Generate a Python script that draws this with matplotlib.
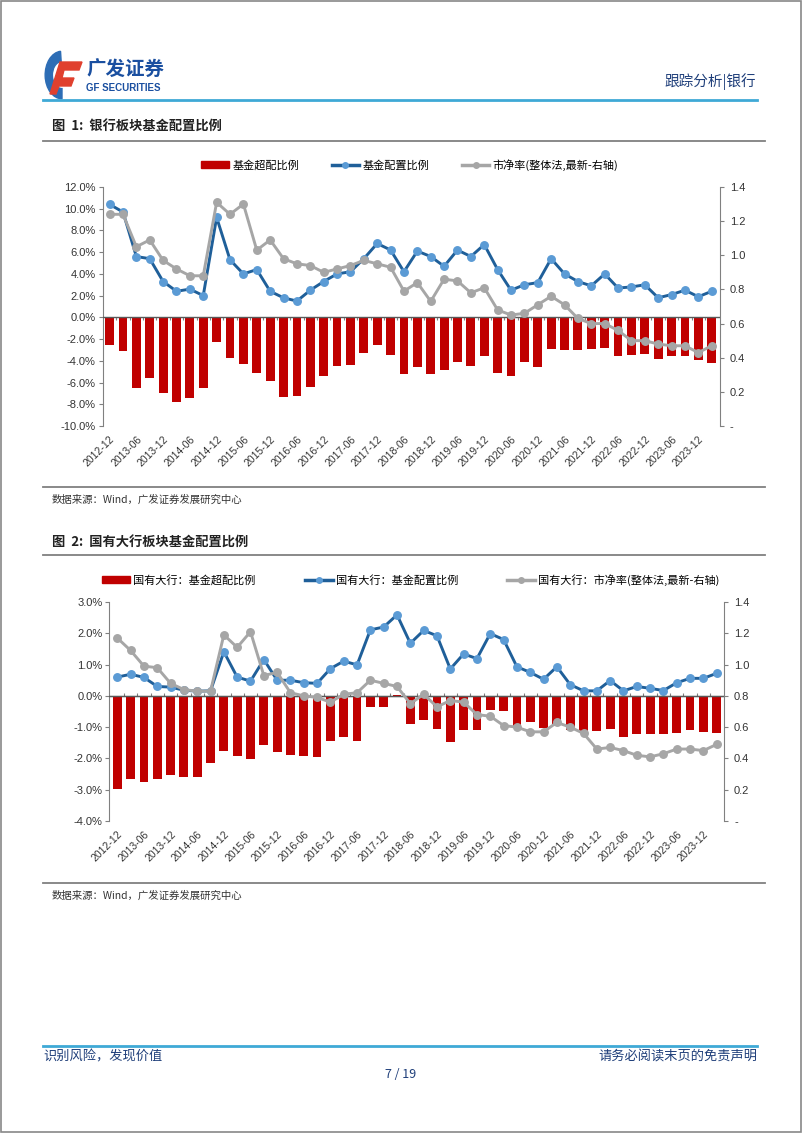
import matplotlib
matplotlib.use('Agg')
from matplotlib import pyplot as plt
from matplotlib.patches import Rectangle, Polygon, Wedge
from matplotlib.lines import Line2D
import numpy as np

# quarterly report dates
quarters = ['2012-12', '2013-03', '2013-06', '2013-09', '2013-12', '2014-03', '2014-06', '2014-09',
            '2014-12', '2015-03', '2015-06', '2015-09', '2015-12', '2016-03', '2016-06', '2016-09',
            '2016-12', '2017-03', '2017-06', '2017-09', '2017-12', '2018-03', '2018-06', '2018-09',
            '2018-12', '2019-03', '2019-06', '2019-09', '2019-12', '2020-03', '2020-06', '2020-09',
            '2020-12', '2021-03', '2021-06', '2021-09', '2021-12', '2022-03', '2022-06', '2022-09',
            '2022-12', '2023-03', '2023-06', '2023-09', '2023-12', '2024-03']

# fig 1: bank sector
bank_over = [-2.5, -3.1, -6.5, -5.6, -7.0, -7.8, -7.4, -6.5, -2.3, -3.7, -4.3, -5.1, -5.9, -7.3, -7.2, -6.4,
             -5.4, -4.5, -4.4, -3.3, -2.5, -3.5, -5.2, -4.6, -5.2, -4.8, -4.1, -4.5, -3.6, -5.1, -5.4, -4.1,
             -4.6, -2.9, -3.0, -3.0, -2.9, -2.8, -3.6, -3.5, -3.4, -3.8, -3.6, -3.55, -3.9, -4.2]
bank_alloc = [10.4, 9.7, 5.6, 5.4, 3.3, 2.4, 2.6, 2.0, 9.2, 5.3, 4.0, 4.4, 2.4, 1.8, 1.5, 2.5,
              3.3, 4.0, 4.2, 5.4, 6.8, 6.2, 4.2, 6.1, 5.6, 4.7, 6.2, 5.6, 6.7, 4.4, 2.5, 3.0,
              3.2, 5.4, 4.0, 3.3, 2.9, 4.0, 2.7, 2.8, 3.0, 1.8, 2.1, 2.5, 1.9, 2.4]
bank_pb = [1.24, 1.24, 1.05, 1.09, 0.97, 0.92, 0.88, 0.88, 1.31, 1.24, 1.30, 1.03, 1.09, 0.98, 0.95, 0.94,
           0.90, 0.92, 0.94, 0.97, 0.95, 0.93, 0.79, 0.84, 0.73, 0.86, 0.85, 0.78, 0.81, 0.68, 0.65, 0.66,
           0.71, 0.76, 0.71, 0.63, 0.60, 0.60, 0.56, 0.50, 0.50, 0.48, 0.47, 0.47, 0.43, 0.47]

# fig 2: big state-owned banks
soe_over = [-2.97, -2.65, -2.76, -2.65, -2.52, -2.6, -2.58, -2.14, -1.75, -1.93, -2.03, -1.56, -1.79, -1.9, -1.93, -1.95,
            -1.44, -1.31, -1.43, -0.36, -0.36, 0.03, -0.89, -0.76, -1.07, -1.49, -1.1, -1.08, -0.44, -0.47, -0.95, -0.85,
            -1.02, -0.9, -1.1, -1.19, -1.13, -1.07, -1.3, -1.21, -1.22, -1.21, -1.18, -1.1, -1.15, -1.18]
soe_alloc = [0.6, 0.69, 0.59, 0.3, 0.28, 0.18, 0.15, 0.16, 1.41, 0.6, 0.47, 1.16, 0.5, 0.5, 0.42, 0.4,
             0.87, 1.11, 0.99, 2.11, 2.2, 2.59, 1.68, 2.09, 1.92, 0.86, 1.34, 1.19, 1.99, 1.8, 0.93, 0.75,
             0.53, 0.93, 0.36, 0.16, 0.16, 0.49, 0.16, 0.3, 0.24, 0.17, 0.42, 0.56, 0.56, 0.72]
soe_pb = [1.17, 1.09, 0.99, 0.98, 0.88, 0.84, 0.83, 0.83, 1.19, 1.11, 1.21, 0.93, 0.95, 0.82, 0.80, 0.79,
          0.76, 0.81, 0.82, 0.90, 0.88, 0.86, 0.75, 0.81, 0.73, 0.77, 0.76, 0.68, 0.67, 0.61, 0.60, 0.57,
          0.57, 0.63, 0.60, 0.56, 0.46, 0.47, 0.45, 0.42, 0.41, 0.43, 0.46, 0.46, 0.45, 0.49]

RED = '#C00000'
BLUE_LINE = '#1F5F99'
BLUE_MK = '#5B9BD5'
GREY = '#A6A6A6'
NAVY = '#1F3F7A'
CJK = ['Noto Sans CJK SC', 'DejaVu Sans']
NUM = ['Liberation Sans', 'DejaVu Sans']

W, H = 802, 1133
fig = plt.figure(figsize=(W / 100, H / 100), dpi=100)


def fx(x):
    return x / W


def fy(y):
    return 1 - y / H


def hline(y, x0, x1, color, lw):
    fig.add_artist(Line2D([fx(x0), fx(x1)], [fy(y), fy(y)], color=color, lw=lw, transform=fig.transFigure))


def draw_chart(rect, over, alloc, pb, ylo, yhi, ystep, xlim, names, legend_x, legend_y, colsp):
    ax = fig.add_axes(rect)
    x = np.arange(len(quarters))
    ax.bar(x, over, width=0.66, color=RED, zorder=2)
    ax.plot(x, alloc, color=BLUE_LINE, lw=2.1, marker='o', ms=5.4,
            mfc=BLUE_MK, mec=BLUE_MK, zorder=3)
    ax.set_ylim(ylo, yhi)
    ax.set_xlim(*xlim)
    yt = np.arange(ylo, yhi + ystep / 2, ystep)
    ax.set_yticks(yt)
    ax.set_yticklabels(['%.1f%%' % v for v in yt], family=NUM, fontsize=8, color='#333333')
    ax.set_xticks(x[::2])
    ax.set_xticklabels(quarters[::2], rotation=45, ha='right', va='top', rotation_mode='anchor',
                       family=NUM, fontsize=7.5, color='#333333')
    ax.tick_params(axis='x', length=0, pad=6)
    ax.tick_params(axis='y', length=3, color='#808080', direction='out', pad=2)
    for s in ['top', 'right', 'bottom']:
        ax.spines[s].set_visible(False)
    ax.spines['left'].set_color('#808080')
    ax.axhline(0, color='#595959', lw=1.0, zorder=4)
    # small ticks on the zero line between categories
    sec = ax.secondary_xaxis(-ylo / (yhi - ylo))
    sec.set_xticks(x[:-1] + 0.5)
    sec.set_xticklabels([])
    sec.tick_params(length=2.5, color='#808080', direction='out')
    sec.spines['bottom'].set_visible(False)

    ax2 = ax.twinx()
    ax2.plot(x, pb, color=GREY, lw=2.1, marker='o', ms=5.4, mfc=GREY, mec=GREY, zorder=3)
    ax2.set_ylim(0, 1.4)
    rt = np.arange(0, 1.41, 0.2)
    ax2.set_yticks(rt)
    ax2.set_yticklabels(['-'] + ['%.1f' % v for v in rt[1:]], family=NUM, fontsize=8, color='#333333')
    ax2.tick_params(axis='y', length=3, color='#808080', pad=4)
    for s in ['top', 'left', 'bottom']:
        ax2.spines[s].set_visible(False)
    ax2.spines['right'].set_color('#808080')

    handles = [Rectangle((0, 0), 1, 1, color=RED),
               Line2D([], [], color=BLUE_LINE, lw=2.5, marker='o', ms=4, mfc=BLUE_MK, mec=BLUE_MK),
               Line2D([], [], color=GREY, lw=2.5, marker='o', ms=4, mfc=GREY, mec=GREY)]
    fig.legend(handles, names, loc='center', bbox_to_anchor=(fx(legend_x), fy(legend_y)), ncol=3,
               frameon=False, prop={'family': CJK, 'size': 8}, handlelength=2.5,
               handleheight=0.6, columnspacing=colsp, handletextpad=0.3)
    return ax


# header
fig.add_artist(Wedge((fx(62), fy(75)), 0.021, 95, 270, width=0.009, color='#2D6DB5',
                     transform=fig.transFigure))
fig.add_artist(Polygon([[fx(60), fy(62)], [fx(82), fy(62)], [fx(79), fy(70)], [fx(64), fy(70)],
                        [fx(62), fy(78)], [fx(74), fy(78)], [fx(71), fy(86)], [fx(59), fy(86)], [fx(56), fy(94)],
                        [fx(50), fy(94)]], closed=True, color='#E0402E', transform=fig.transFigure))
fig.text(fx(86), fy(70), '广发证券', family=CJK, fontsize=14, fontweight='bold', color='#1A4FA0',
         va='center', ha='left')
fig.text(fx(86), fy(88), 'GF SECURITIES', family=NUM, fontsize=7, fontweight='bold', color='#1A4FA0',
         va='center', ha='left')
fig.text(fx(756), fy(82), '跟踪分析|银行', family=CJK, fontsize=10.5, color=NAVY, ha='right', va='center')
hline(100, 43, 757, '#3FA9D6', 2.0)

# figure 1
fig.text(fx(52), fy(127), '图  1:  银行板块基金配置比例', family=CJK, fontsize=9.5, fontweight='bold',
         color='#222222', va='center')
hline(141, 43, 765, '#808080', 1.3)
draw_chart([fx(102.5), fy(426), fx(720) - fx(102.5), fy(187) - fy(426)],
           bank_over, bank_alloc, bank_pb, -10, 12, 2, (-0.53, 45.62),
           ['基金超配比例', '基金配置比例', '市净率(整体法,最新-右轴)'], 410, 165, 2.9)
hline(487, 43, 765, '#808080', 1.3)
fig.text(fx(52), fy(500), '数据来源：Wind，广发证券发展研究中心', family=CJK, fontsize=7.5,
         color='#333333', va='center')

# figure 2
fig.text(fx(52), fy(543), '图  2:  国有大行板块基金配置比例', family=CJK, fontsize=9.5, fontweight='bold',
         color='#222222', va='center')
hline(555, 43, 765, '#808080', 1.3)
draw_chart([fx(109.3), fy(821), fx(724.3) - fx(109.3), fy(602) - fy(821)],
           soe_over, soe_alloc, soe_pb, -4, 3, 1, (-0.6, 45.57),
           ['国有大行：基金超配比例', '国有大行：基金配置比例', '国有大行：市净率(整体法,最新-右轴)'],
           411, 580, 4.4)
hline(883, 43, 765, '#808080', 1.3)
fig.text(fx(52), fy(896), '数据来源：Wind，广发证券发展研究中心', family=CJK, fontsize=7.5,
         color='#333333', va='center')

# footer
hline(1046, 43, 757, '#3FA9D6', 2.0)
fig.text(fx(43), fy(1057), '识别风险，发现价值', family=CJK, fontsize=9.5, color=NAVY, va='center')
fig.text(fx(757), fy(1057), '请务必阅读末页的免责声明', family=CJK, fontsize=9.5, color=NAVY,
         va='center', ha='right')
fig.text(fx(401), fy(1075), '7 / 19', family=CJK, fontsize=9, color=NAVY, va='center', ha='center')

# page border
fig.add_artist(Rectangle((0.001, 0.001), 0.998, 0.998, fill=False, ec='#888888', lw=1.2,
                         transform=fig.transFigure))

fig.savefig('out.png', dpi=100)
